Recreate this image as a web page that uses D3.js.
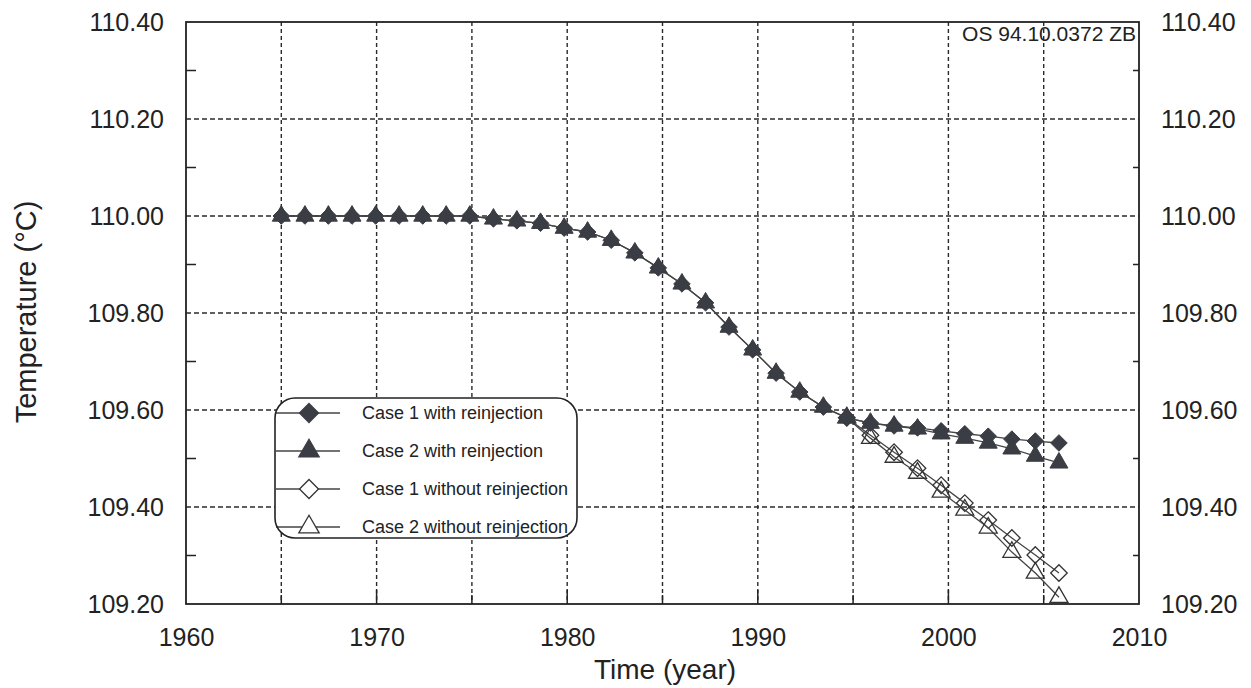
<!DOCTYPE html>
<html>
<head>
<meta charset="utf-8">
<script src="https://cdn.jsdelivr.net/npm/d3@7"></script>
<style>
  body { margin: 0; background: #fff; }
  svg text { font-family: Arial, "Liberation Sans", sans-serif; fill: #222; }
</style>
</head>
<body>
<svg id="chart" width="1251" height="688"></svg>
<script>
// time steps of the simulation (year)
var years = [1965.00, 1966.24, 1967.47, 1968.71, 1969.95, 1971.18, 1972.42, 1973.65, 1974.89,
  1976.13, 1977.36, 1978.60, 1979.84, 1981.07, 1982.31, 1983.55, 1984.78, 1986.02, 1987.26,
  1988.49, 1989.73, 1990.96, 1992.20, 1993.44, 1994.67, 1995.91, 1997.15, 1998.38, 1999.62,
  2000.86, 2002.09, 2003.33, 2004.56, 2005.80];

var case1With = [110.000, 110.000, 110.000, 110.000, 110.000, 110.000, 110.000, 110.000, 110.000,
  109.994, 109.990, 109.985, 109.975, 109.967, 109.950, 109.924, 109.893, 109.860, 109.821,
  109.771, 109.724, 109.676, 109.637, 109.606, 109.584, 109.573, 109.567, 109.563, 109.557,
  109.551, 109.546, 109.540, 109.536, 109.532];

var case2With = [110.000, 110.000, 110.000, 110.000, 110.000, 110.000, 110.000, 110.000, 110.000,
  109.994, 109.990, 109.985, 109.975, 109.967, 109.950, 109.924, 109.893, 109.860, 109.821,
  109.771, 109.724, 109.676, 109.637, 109.606, 109.584, 109.573, 109.567, 109.561, 109.551,
  109.542, 109.532, 109.520, 109.505, 109.491];

// without reinjection only differs from 1995 on
var yearsNoReinj = [1994.67, 1995.91, 1997.15, 1998.38, 1999.62, 2000.86, 2002.09, 2003.33, 2004.56, 2005.80];
var case1Without = [109.584, 109.548, 109.513, 109.480, 109.445, 109.408, 109.373, 109.336, 109.301, 109.264];
var case2Without = [109.584, 109.542, 109.503, 109.470, 109.431, 109.394, 109.357, 109.307, 109.264, 109.214];

var xTicks = [1960, 1970, 1980, 1990, 2000, 2010];
var xGrid = [1965, 1970, 1975, 1980, 1985, 1990, 1995, 2000, 2005];
var yTicks = [109.2, 109.4, 109.6, 109.8, 110.0, 110.2, 110.4];
var yMinor = [109.3, 109.5, 109.7, 109.9, 110.1, 110.3];

var legendNames = ["Case 1 with reinjection", "Case 2 with reinjection",
  "Case 1 without reinjection", "Case 2 without reinjection"];

var svg = d3.select("#chart"),
    plotL = 186, plotR = 1139, plotT = 22, plotB = 604;

var x = d3.scaleLinear().domain([1960, 2010]).range([plotL, plotR]);
var y = d3.scaleLinear().domain([109.2, 110.4]).range([plotB, plotT]);

var dark = "#3a3d44";

// grid
svg.append("g").selectAll("line")
  .data(xGrid).enter().append("line")
    .attr("x1", d => x(d)).attr("x2", d => x(d))
    .attr("y1", plotT).attr("y2", plotB)
    .attr("stroke", "#2a2a2a").attr("stroke-width", 1.4)
    .attr("stroke-dasharray", "4,3");

svg.append("g").selectAll("line")
  .data(yTicks.slice(1, -1)).enter().append("line")
    .attr("x1", plotL).attr("x2", plotR)
    .attr("y1", d => y(d)).attr("y2", d => y(d))
    .attr("stroke", "#2a2a2a").attr("stroke-width", 1.4)
    .attr("stroke-dasharray", "5,3");

// axes
var axisLeft = d3.axisLeft(y).tickValues(yTicks).tickFormat(d3.format(".2f")).tickSize(0).tickPadding(22);
var axisRight = d3.axisRight(y).tickValues(yTicks).tickFormat(d3.format(".2f")).tickSize(0).tickPadding(22);
var axisBottom = d3.axisBottom(x).tickValues(xTicks).tickFormat(d3.format("d")).tickSize(0).tickPadding(24);

svg.append("g").attr("transform", "translate(" + plotL + ",0)").call(axisLeft);
svg.append("g").attr("transform", "translate(" + plotR + ",0)").call(axisRight);
svg.append("g").attr("transform", "translate(0," + plotB + ")").call(axisBottom);

svg.selectAll(".tick text").style("font-size", "25px").attr("fill", "#222");
svg.selectAll(".domain").remove();

// inner ticks
svg.append("g").selectAll("line")
  .data(yMinor).enter().append("line")
    .attr("x1", plotL).attr("x2", plotL + 10)
    .attr("y1", d => y(d)).attr("y2", d => y(d))
    .attr("stroke", "#222").attr("stroke-width", 1.5);
svg.append("g").selectAll("line")
  .data(yMinor).enter().append("line")
    .attr("x1", plotR - 6).attr("x2", plotR)
    .attr("y1", d => y(d)).attr("y2", d => y(d))
    .attr("stroke", "#222").attr("stroke-width", 1.5);
svg.append("g").selectAll("line")
  .data(xGrid).enter().append("line")
    .attr("x1", d => x(d)).attr("x2", d => x(d))
    .attr("y1", plotB).attr("y2", d => plotB - (d % 10 === 0 ? 14 : 9))
    .attr("stroke", "#222").attr("stroke-width", 1.5);

svg.append("rect")
    .attr("x", plotL).attr("y", plotT)
    .attr("width", plotR - plotL).attr("height", plotB - plotT)
    .attr("fill", "none").attr("stroke", "#222").attr("stroke-width", 1.8);

// series
var diamond = d3.symbol().type(d3.symbolDiamond2).size(175);
var triangle = d3.symbol().type(d3.symbolTriangle).size(140);

var series = [
  {xs: yearsNoReinj, ys: case1Without, sym: diamond, fill: "none"},
  {xs: yearsNoReinj, ys: case2Without, sym: triangle, fill: "none"},
  {xs: years, ys: case1With, sym: diamond, fill: dark},
  {xs: years, ys: case2With, sym: triangle, fill: dark}
];

var line = d3.line().x(d => x(d[0])).y(d => y(d[1]));

series.forEach(function(s) {
  var pts = s.xs.map((d, i) => [d, s.ys[i]]);
  svg.append("path")
      .attr("d", line(pts))
      .attr("fill", "none").attr("stroke", "#444").attr("stroke-width", 1.3);
  svg.append("g").selectAll("path")
    .data(pts).enter().append("path")
      .attr("transform", d => "translate(" + x(d[0]) + "," + y(d[1]) + ")")
      .attr("d", s.sym)
      .attr("fill", s.fill)
      .attr("stroke", s.fill === "none" ? "#333" : dark)
      .attr("stroke-width", s.fill === "none" ? 1.3 : 1);
});

// legend
var legend = svg.append("g");
legend.append("rect")
    .attr("x", 275).attr("y", 398).attr("width", 302).attr("height", 140)
    .attr("rx", 20).attr("fill", "#fff");

var legendDiamond = d3.symbol().type(d3.symbolDiamond2).size(230);
var legendTriangle = d3.symbol().type(d3.symbolTriangle).size(180);
var legendSym = [legendDiamond, legendTriangle, legendDiamond, legendTriangle];
var legendFill = [dark, dark, "#fff", "#fff"];
legendNames.forEach(function(name, i) {
  var ly = 413 + i * 38;
  legend.append("line")
      .attr("x1", 276).attr("x2", 340).attr("y1", ly).attr("y2", ly)
      .attr("stroke", "#444").attr("stroke-width", 1.3);
  legend.append("path")
      .attr("transform", "translate(309," + ly + ")")
      .attr("d", legendSym[i])
      .attr("fill", legendFill[i])
      .attr("stroke", legendFill[i] === dark ? dark : "#333")
      .attr("stroke-width", 1.3);
  legend.append("text")
      .attr("x", 362).attr("y", ly)
      .attr("dy", "0.35em")
      .style("font-size", "18px")
      .text(name);
});
legend.append("rect")
    .attr("x", 275).attr("y", 398).attr("width", 302).attr("height", 140)
    .attr("rx", 20).attr("fill", "none").attr("stroke", "#222").attr("stroke-width", 1.6);

// labels
svg.append("text")
    .attr("x", 1136).attr("y", 41)
    .attr("text-anchor", "end")
    .style("font-size", "21px")
    .text("OS 94.10.0372 ZB");

svg.append("text")
    .attr("x", 665).attr("y", 679)
    .attr("text-anchor", "middle")
    .style("font-size", "28px")
    .text("Time (year)");

svg.append("text")
    .attr("transform", "translate(36,312) rotate(-90)")
    .attr("text-anchor", "middle")
    .style("font-size", "29px")
    .text("Temperature (°C)");
</script>
</body>
</html>
